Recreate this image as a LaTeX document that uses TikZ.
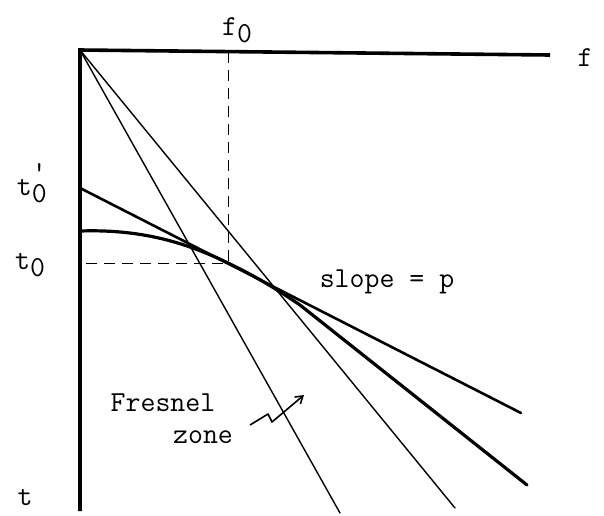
\documentclass[tikz,border=0pt]{standalone}
\usetikzlibrary{arrows.meta}
\newcommand{\lowz}{\raisebox{-0.55ex}{0}}
\begin{document}
\begin{tikzpicture}[x=1pt,y=-1pt,
  lbl/.style={font=\ttfamily\fontsize{29}{32}\selectfont, inner sep=0pt},
  axisline/.style={line width=3.6pt},
  heavy/.style={line width=3.2pt, line cap=round},
  ray/.style={line width=1.4pt, line cap=round},
  guide/.style={line width=1pt, dash pattern=on 11pt off 7pt}]
\useasboundingbox (0,0) rectangle (604,515);
% coordinates
\coordinate (O) at (80,50);
\coordinate (B) at (80,511);
\coordinate (R) at (550,55);
\coordinate (F0) at (228,52);
\coordinate (P) at (228,263);
\coordinate (T0) at (80,263);
\coordinate (T1) at (80,188);
\coordinate (TE) at (521,413);
\coordinate (C0) at (80,231);
\coordinate (C1) at (300,305);
\coordinate (CE) at (527,485);
\coordinate (R1) at (340,513);
\coordinate (R2) at (455,508);
\coordinate (W0) at (250,425);
\coordinate (W1) at (268,414);
\coordinate (W2) at (272,422);
\coordinate (W3) at (304,395);
% axes
\draw[axisline] (B) -- (O) -- (R);
% dashed guides
\draw[guide] (F0) -- (P) -- (T0);
% rays from origin
\draw[ray] (O) -- (R1);
\draw[ray] (O) -- (R2);
% tangent line
\draw[heavy, line width=2.6pt] (T1) -- (TE);
% curve
\draw[heavy] (C0) .. controls (140,229) and (185,242) .. (P)
  .. controls (255,276) and (275,288) .. (C1) -- (CE);
% Fresnel arrow
\draw[line width=1.6pt, line join=round, -{Straight Barb[length=7pt,width=9pt]}] (W0) -- (W1) -- (W2) -- (W3);
% labels
\node[lbl] (lf) at (585,58) {f};
\node[lbl] (lf0) at (237,30) {f\lowz};
\node[lbl, anchor=east] (lt1) at (47,183) {t\raisebox{-0.55ex}{\shortstack{\raisebox{-1.1ex}{'}\\0}}};
\node[lbl] (lt0) at (30,265) {t\lowz};
\node[lbl] (lt) at (25,498) {t};
\node[lbl] (ls) at (387,282) {slope = p};
\node[lbl] (lfr) at (163,403) {Fresnel};
\node[lbl] (lz) at (203,437) {zone};
\end{tikzpicture}
\end{document}
